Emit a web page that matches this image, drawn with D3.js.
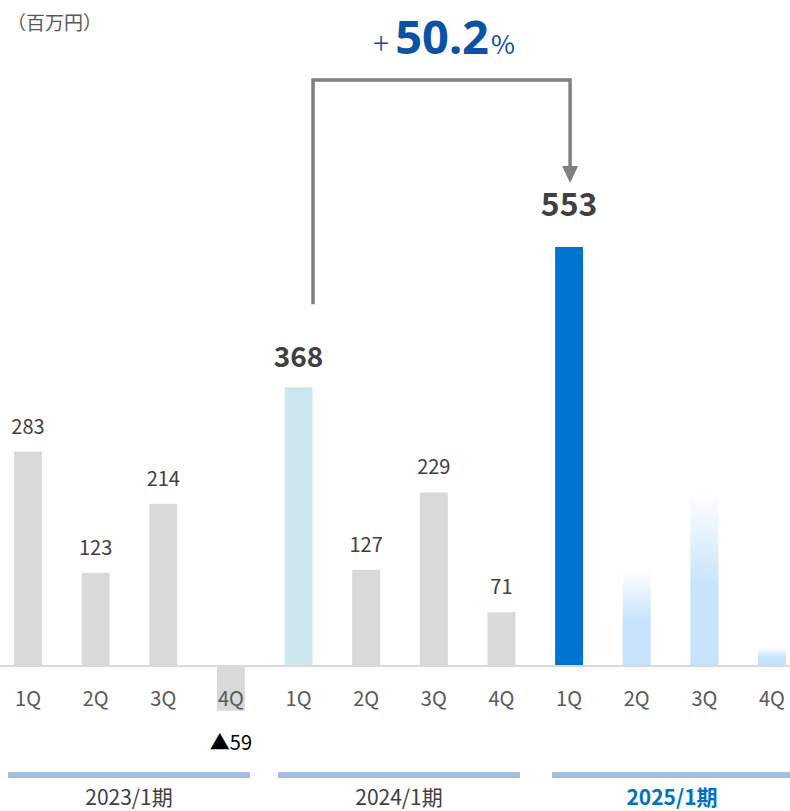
<!DOCTYPE html>
<html>
<head>
<meta charset="utf-8">
<script src="https://cdn.jsdelivr.net/npm/d3@7"></script>
<style>
  body { margin: 0; background: #fff; }
  svg { display: block; font-family: "Noto Sans CJK JP", "Noto Sans", sans-serif; }
</style>
</head>
<body>
<div id="chart"></div>
<script>
// quarterly values (百万円)
var quarters = ["1Q", "2Q", "3Q", "4Q", "1Q", "2Q", "3Q", "4Q", "1Q", "2Q", "3Q", "4Q"];
var periods = ["2023/1期", "2024/1期", "2025/1期"];
var values = [283, 123, 214, -59, 368, 127, 229, 71, 553, 127, 229, 25];
// "actual" | "future" — future bars are drawn faded
var kinds = ["actual", "actual", "actual", "actual", "actual", "actual", "actual", "actual",
             "actual", "future", "future", "future"];
var growthLabel = "50.2";

var width = 790, height = 811;

var svg = d3.select("#chart").append("svg")
    .attr("width", width)
    .attr("height", height);

var defs = svg.append("defs");
var grad = defs.append("linearGradient")
    .attr("id", "fade")
    .attr("x1", 0).attr("y1", 1).attr("x2", 0).attr("y2", 0);
grad.append("stop").attr("offset", "0").attr("stop-color", "#c5e3fc");
grad.append("stop").attr("offset", "0.45").attr("stop-color", "#c5e3fc");
grad.append("stop").attr("offset", "1").attr("stop-color", "#c5e3fc").attr("stop-opacity", 0);

var idx = d3.range(values.length);

var x = d3.scaleBand()
    .domain(idx)
    .range([-5.8, 805.8])
    .paddingInner(0.586)
    .paddingOuter(0.293);

var y = d3.scaleLinear()
    .domain([0, 553])
    .range([666, 247]);

function barColor(i) {
    if (kinds[i] === "future") return "url(#fade)";
    if (i === 8) return "#0074d1";
    if (i === 4) return "#cde7ee";
    return "#d9d9d9";
}

// bars
svg.selectAll(".bar")
    .data(idx)
    .enter().append("rect")
    .attr("class", "bar")
    .attr("x", function(i) { return x(i); })
    .attr("width", x.bandwidth())
    .attr("y", function(i) { return y(Math.max(0, values[i])); })
    .attr("height", function(i) { return Math.abs(y(values[i]) - y(0)); })
    .attr("fill", function(i) { return barColor(i); });

// baseline
svg.append("line")
    .attr("x1", 0).attr("x2", width)
    .attr("y1", y(0)).attr("y2", y(0))
    .attr("stroke", "#d9d9d9")
    .attr("stroke-width", 2);

// quarter ticks
var axis = svg.append("g")
    .attr("transform", "translate(0," + y(0) + ")")
    .call(d3.axisBottom(x).tickSize(0).tickPadding(0).tickFormat(function(i) { return quarters[i]; }));
axis.select(".domain").remove();
axis.selectAll("text")
    .attr("dy", null)
    .attr("y", 40)
    .style("font-size", "20px")
    .style("font-family", "'Noto Sans CJK JP', sans-serif")
    .style("fill", "#595959");

// value labels
var labelled = idx.filter(function(i) { return kinds[i] === "actual"; });
svg.selectAll(".val")
    .data(labelled)
    .enter().append("text")
    .attr("class", "val")
    .attr("text-anchor", "middle")
    .attr("x", function(i) { return x(i) + x.bandwidth() / 2; })
    .attr("y", function(i) {
        if (values[i] < 0) return y(values[i]) + 39;
        if (i === 8) return y(values[i]) - 31;
        if (i === 4) return y(values[i]) - 20;
        return y(values[i]) - 18;
    })
    .style("font-size", function(i) { return i === 8 ? "32px" : (i === 4 ? "28px" : "20px"); })
    .style("font-weight", function(i) { return (i === 4 || i === 8) ? "bold" : "normal"; })
    .style("fill", function(i) { return values[i] < 0 ? "#000" : "#404040"; })
    .text(function(i) { return values[i] < 0 ? "▲" + Math.abs(values[i]) : values[i]; });

// period brackets
var periodSpans = [[8, 250], [278, 520], [552, 790]];
svg.selectAll(".pline")
    .data(periods)
    .enter().append("line")
    .attr("x1", function(d, k) { return periodSpans[k][0]; })
    .attr("x2", function(d, k) { return periodSpans[k][1]; })
    .attr("y1", 775).attr("y2", 775)
    .attr("stroke", "#a4bde0")
    .attr("stroke-width", 6);

svg.selectAll(".plabel")
    .data(periods)
    .enter().append("text")
    .attr("text-anchor", "middle")
    .attr("x", function(d, k) { return (periodSpans[k][0] + periodSpans[k][1]) / 2 + (k === 2 ? 1 : 0); })
    .attr("y", 805)
    .style("font-size", "21px")
    .style("font-weight", function(d, k) { return k === 2 ? "bold" : "normal"; })
    .style("fill", function(d, k) { return k === 2 ? "#0070c0" : "#404040"; })
    .text(function(d) { return d; });

// unit
svg.append("text")
    .attr("x", 7).attr("y", 30)
    .style("font-size", "19px")
    .style("fill", "#595959")
    .text("（百万円）");

// growth arrow from 2024 1Q to 2025 1Q
var ax1 = x(4) + x.bandwidth() + 0.5, ax2 = x(8) + x.bandwidth() / 2 + 1;
var topY = 80;
svg.append("path")
    .attr("d", "M" + ax1 + "," + (y(values[4]) - 83) + "V" + topY + "H" + ax2 + "V" + 168)
    .attr("fill", "none")
    .attr("stroke", "#808080")
    .attr("stroke-width", 3.5);
svg.append("path")
    .attr("d", "M" + (ax2 - 8) + ",166L" + (ax2 + 8) + ",166L" + ax2 + ",183Z")
    .attr("fill", "#808080");

var g = svg.append("text")
    .attr("x", 444)
    .attr("y", 54)
    .attr("text-anchor", "middle")
    .style("fill", "#0b52a5");
g.append("tspan").style("font-size", "30px").style("font-weight", "300").text("+");
g.append("tspan").attr("dx", 6).style("font-size", "47px").style("font-weight", "bold").attr("font-family", "'Noto Sans', sans-serif").text(growthLabel);
g.append("tspan").attr("dx", 2).style("font-size", "26px").text("%");
</script>
</body>
</html>
